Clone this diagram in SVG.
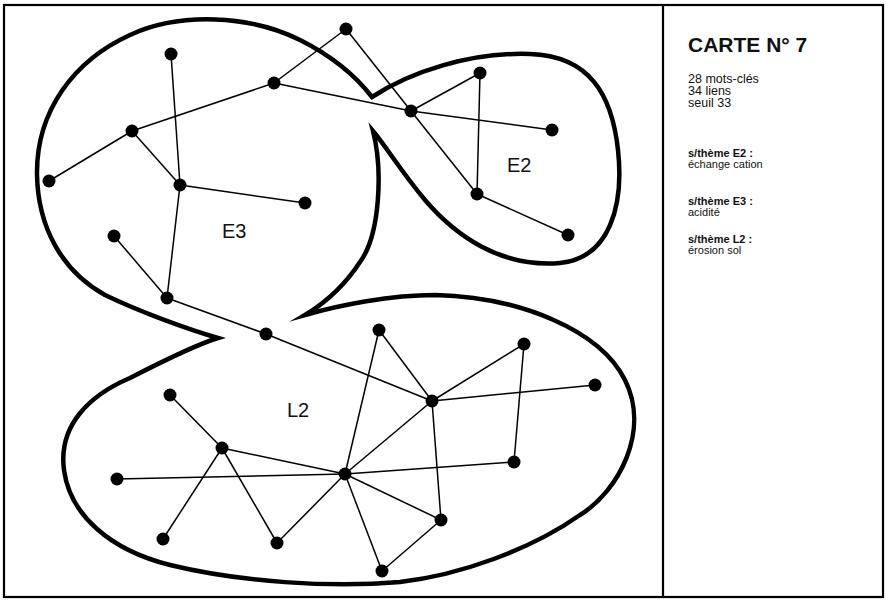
<svg xmlns="http://www.w3.org/2000/svg" width="886" height="600" viewBox="0 0 886 600">
<style>
.frame{fill:none;stroke:#000;stroke-width:2.2}
.blob{fill:none;stroke:#000;stroke-width:4.5;stroke-linejoin:miter;stroke-miterlimit:20}
.edge{stroke:#000;stroke-width:1.5;fill:none}
.node{fill:#000}
.lbl{font-family:"Liberation Sans",Arial,sans-serif;font-size:20px;fill:#111}
.title{font-family:"Liberation Sans",Arial,sans-serif;font-size:21px;font-weight:bold;fill:#111}
.info{font-family:"Liberation Sans",Arial,sans-serif;font-size:12.5px;fill:#111}
.head{font-family:"Liberation Sans",Arial,sans-serif;font-size:11px;font-weight:bold;fill:#111}
.sub{font-family:"Liberation Sans",Arial,sans-serif;font-size:11px;fill:#111}
</style>
<rect width="886" height="600" fill="#fff"/>
<g id="frame">
<rect class="frame" x="4" y="5" width="879" height="592"/>
<line class="frame" x1="663" y1="5" x2="663" y2="597"/>
</g>
<g id="outline">
<path class="blob" d="M372,97 C410,72 470,52 530,54 C590,56 612,95 618,150 C624,205 610,258 560,263 C500,268 455,235 425,200 C400,170 385,145 373,131 C383,170 380,235 360,262 C345,285 325,303 305,315 C340,305 390,295 435,295 C520,297 600,330 625,380 C650,430 620,490 580,515 C530,550 460,575 400,582 C330,588 240,582 170,565 C110,550 70,515 64,470 C58,425 90,395 130,378 C165,360 195,345 218,338 C190,330 140,312 105,295 C60,270 38,225 37,175 C36,110 75,60 130,35 C180,12 250,15 300,40 C330,55 355,75 372,97 Z"/>
</g>
<g id="connectors">
<line class="edge" x1="346" y1="29" x2="274" y2="83"/>
<line class="edge" x1="346" y1="29" x2="411" y2="111"/>
<line class="edge" x1="274" y1="83" x2="132" y2="131"/>
<line class="edge" x1="274" y1="83" x2="411" y2="111"/>
<line class="edge" x1="171" y1="54" x2="180" y2="185"/>
<line class="edge" x1="132" y1="131" x2="49" y2="181"/>
<line class="edge" x1="132" y1="131" x2="180" y2="185"/>
<line class="edge" x1="180" y1="185" x2="305" y2="203"/>
<line class="edge" x1="180" y1="185" x2="167" y2="298"/>
<line class="edge" x1="114" y1="236" x2="167" y2="298"/>
<line class="edge" x1="167" y1="298" x2="266" y2="334"/>
<line class="edge" x1="266" y1="334" x2="432" y2="401"/>
<line class="edge" x1="411" y1="111" x2="480" y2="73"/>
<line class="edge" x1="411" y1="111" x2="552" y2="130"/>
<line class="edge" x1="411" y1="111" x2="477" y2="194"/>
<line class="edge" x1="480" y1="73" x2="477" y2="194"/>
<line class="edge" x1="477" y1="194" x2="568" y2="235"/>
<line class="edge" x1="379" y1="330" x2="432" y2="401"/>
<line class="edge" x1="379" y1="330" x2="345" y2="474"/>
<line class="edge" x1="432" y1="401" x2="524" y2="344"/>
<line class="edge" x1="432" y1="401" x2="595" y2="385"/>
<line class="edge" x1="432" y1="401" x2="345" y2="474"/>
<line class="edge" x1="432" y1="401" x2="441" y2="520"/>
<line class="edge" x1="524" y1="344" x2="514" y2="462"/>
<line class="edge" x1="514" y1="462" x2="345" y2="474"/>
<line class="edge" x1="170" y1="395" x2="222" y2="448"/>
<line class="edge" x1="222" y1="448" x2="345" y2="474"/>
<line class="edge" x1="222" y1="448" x2="163" y2="539"/>
<line class="edge" x1="222" y1="448" x2="277" y2="543"/>
<line class="edge" x1="117" y1="479" x2="345" y2="474"/>
<line class="edge" x1="277" y1="543" x2="345" y2="474"/>
<line class="edge" x1="345" y1="474" x2="441" y2="520"/>
<line class="edge" x1="345" y1="474" x2="382" y2="571"/>
<line class="edge" x1="441" y1="520" x2="382" y2="571"/>
</g>
<g id="nodes">
<circle id="n1" class="node" cx="171" cy="54" r="6.5"/>
<circle id="n2" class="node" cx="274" cy="83" r="6.5"/>
<circle id="n3" class="node" cx="346" cy="29" r="6.5"/>
<circle id="n4" class="node" cx="132" cy="131" r="6.5"/>
<circle id="n5" class="node" cx="49" cy="181" r="6.5"/>
<circle id="n6" class="node" cx="180" cy="185" r="6.5"/>
<circle id="n7" class="node" cx="305" cy="203" r="6.5"/>
<circle id="n8" class="node" cx="114" cy="236" r="6.5"/>
<circle id="n9" class="node" cx="167" cy="298" r="6.5"/>
<circle id="n10" class="node" cx="411" cy="111" r="6.5"/>
<circle id="n11" class="node" cx="480" cy="73" r="6.5"/>
<circle id="n12" class="node" cx="552" cy="130" r="6.5"/>
<circle id="n13" class="node" cx="477" cy="194" r="6.5"/>
<circle id="n14" class="node" cx="568" cy="235" r="6.5"/>
<circle id="n15" class="node" cx="266" cy="334" r="6.5"/>
<circle id="n16" class="node" cx="379" cy="330" r="6.5"/>
<circle id="n17" class="node" cx="432" cy="401" r="6.5"/>
<circle id="n18" class="node" cx="170" cy="395" r="6.5"/>
<circle id="n19" class="node" cx="222" cy="448" r="6.5"/>
<circle id="n20" class="node" cx="117" cy="479" r="6.5"/>
<circle id="n21" class="node" cx="345" cy="474" r="6.5"/>
<circle id="n22" class="node" cx="163" cy="539" r="6.5"/>
<circle id="n23" class="node" cx="277" cy="543" r="6.5"/>
<circle id="n24" class="node" cx="441" cy="520" r="6.5"/>
<circle id="n25" class="node" cx="382" cy="571" r="6.5"/>
<circle id="n26" class="node" cx="524" cy="344" r="6.5"/>
<circle id="n27" class="node" cx="595" cy="385" r="6.5"/>
<circle id="n28" class="node" cx="514" cy="462" r="6.5"/>
</g>
<g id="labels">
<text class="lbl" x="222" y="238">E3</text>
<text class="lbl" x="507" y="172">E2</text>
<text class="lbl" x="287" y="417">L2</text>
</g>
<g id="legend">
<text class="title" x="688" y="52">CARTE N° 7</text>
<text class="info" x="688" y="83">28 mots-clés</text>
<text class="info" x="688" y="95">34 liens</text>
<text class="info" x="688" y="107">seuil 33</text>
<text class="head" x="688" y="157">s/thème E2 :</text>
<text class="sub" x="688" y="168">échange cation</text>
<text class="head" x="688" y="205">s/thème E3 :</text>
<text class="sub" x="688" y="216">acidité</text>
<text class="head" x="688" y="243">s/thème L2 :</text>
<text class="sub" x="688" y="254">érosion sol</text>
</g>
</svg>
